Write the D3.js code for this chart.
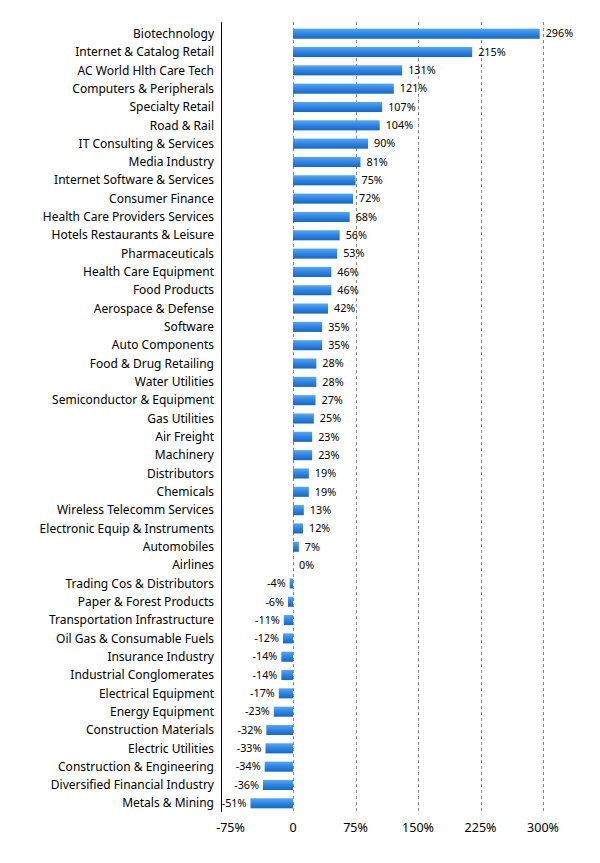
<!DOCTYPE html>
<html><head><meta charset="utf-8">
<script src="https://cdn.jsdelivr.net/npm/d3@7"></script>
<style>body{margin:0;background:#fff;} text{font-family:"Noto Sans",sans-serif;}</style>
</head><body><svg id="c" width="600" height="863"></svg>
<script>
const categories = ["Biotechnology","Internet & Catalog Retail","AC World Hlth Care Tech","Computers & Peripherals","Specialty Retail","Road & Rail","IT Consulting & Services","Media Industry","Internet Software & Services","Consumer Finance","Health Care Providers Services","Hotels Restaurants & Leisure","Pharmaceuticals","Health Care Equipment","Food Products","Aerospace & Defense","Software","Auto Components","Food & Drug Retailing","Water Utilities","Semiconductor & Equipment","Gas Utilities","Air Freight","Machinery","Distributors","Chemicals","Wireless Telecomm Services","Electronic Equip & Instruments","Automobiles","Airlines","Trading Cos & Distributors","Paper & Forest Products","Transportation Infrastructure","Oil Gas & Consumable Fuels","Insurance Industry","Industrial Conglomerates","Electrical Equipment","Energy Equipment","Construction Materials","Electric Utilities","Construction & Engineering","Diversified Financial Industry","Metals & Mining"];
const values = [296,215,131,121,107,104,90,81,75,72,68,56,53,46,46,42,35,35,28,28,27,25,23,23,19,19,13,12,7,0,-4,-6,-11,-12,-14,-14,-17,-23,-32,-33,-34,-36,-51];
const tickValues = [-75,0,75,150,225,300];
const tickLabels = ["-75%","0","75%","150%","225%","300%"];

const svg = d3.select("#c");
const x = d3.scaleLinear().domain([-75,300]).range([230.5,543]);
const y = d3.scaleBand().domain(categories).range([25,812]).paddingInner(0.45).paddingOuter(0.2);

const defs = svg.append("defs");
const g = defs.append("linearGradient").attr("id","bg").attr("x1",0).attr("y1",0).attr("x2",0).attr("y2",1);
g.append("stop").attr("offset","0%").attr("stop-color","#5aa6f2");
g.append("stop").attr("offset","45%").attr("stop-color","#2f88e6");
g.append("stop").attr("offset","100%").attr("stop-color","#1766c4");

svg.append("g").selectAll("line").data(tickValues.filter(v=>v>=0)).join("line")
  .attr("x1",d=>Math.round(x(d))+0.5).attr("x2",d=>Math.round(x(d))+0.5)
  .attr("y1",22).attr("y2",812)
  .attr("stroke","#888").attr("stroke-width",1).attr("stroke-dasharray","3,3");

svg.append("line").attr("x1",221.5).attr("x2",221.5).attr("y1",22).attr("y2",812)
  .attr("stroke","#000").attr("stroke-width",1);

svg.append("g").selectAll("rect").data(values).join("rect")
  .attr("x",(d)=>x(Math.min(0,d)))
  .attr("y",(d,i)=>y(categories[i]))
  .attr("width",d=>Math.abs(x(d)-x(0)))
  .attr("height",y.bandwidth())
  .attr("fill","url(#bg)");

svg.append("g").selectAll("text").data(categories).join("text")
  .attr("x",214).attr("y",d=>y(d)+y.bandwidth()/2)
  .attr("dy","0.35em").attr("text-anchor","end")
  .attr("font-size",12).attr("fill","#000").text(d=>d);

svg.append("g").selectAll("text").data(values).join("text")
  .attr("x",d=>d>=0? x(d)+6 : x(d)-4)
  .attr("y",(d,i)=>y(categories[i])+y.bandwidth()/2)
  .attr("dy","0.35em").attr("text-anchor",d=>d>=0?"start":"end")
  .attr("font-size",10.8).attr("fill","#000").text(d=>d+"%");

svg.append("g").selectAll("text").data(tickValues).join("text")
  .attr("x",d=>x(d)).attr("y",828).attr("dy","0.35em")
  .attr("text-anchor","middle").attr("font-size",12.5).attr("fill","#000")
  .text((d,i)=>tickLabels[i]);
</script></body></html>
